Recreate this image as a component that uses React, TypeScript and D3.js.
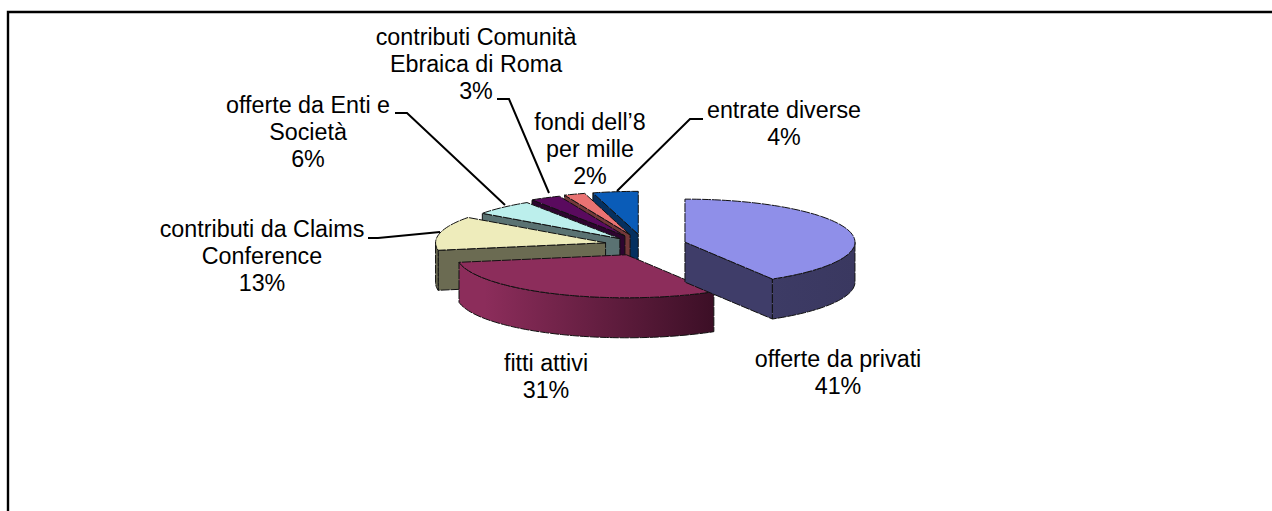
import React from "react";
import * as d3 from "d3";

const categories = ["offerte da privati", "fitti attivi", "contributi da Claims Conference", "offerte da Enti e Società", "contributi Comunità Ebraica di Roma", "fondi dell’8 per mille", "entrate diverse"];
const shares = [41.4, 30.8, 12.8, 5.8, 2.9, 2.0, 4.3];
const topColors = ["#8f8fe9", "#8c2d5b", "#eeecbb", "#bcefec", "#5a0a5e", "#e97272", "#0a5cb8"];
const wallColors = ["#3f3d69", "#8c2d5b", "#6b6b52", "#5a7272", "#2d052f", "#74393a", "#05305f"];
const wallEndColors = ["#3a3860", "#3c0f26", "#6b6b52", "#5a7272", "#2d052f", "#74393a", "#05305f"];
const explodeFactors = [0.25, 0.25, 0.232, 0.206, 0.24, 0.25, 0.25];
const labelLines = [
  ["offerte da privati", "41%"],
  ["fitti attivi", "31%"],
  ["contributi da Claims", "Conference", "13%"],
  ["offerte da Enti e", "Società", "6%"],
  ["contributi Comunità", "Ebraica di Roma", "3%"],
  ["fondi dell’8", "per mille", "2%"],
  ["entrate diverse", "4%"],
];
const labelAnchors: [number, number][] = [[838, 367], [546, 371], [262, 237], [308, 113], [476, 45], [590, 130], [784, 118]];
const leaders: [number, number][][] = [
  [], [],
  [[368, 238], [378, 238], [440, 232]],
  [[395, 113], [407, 113], [505, 205]],
  [[497, 99], [509, 99], [549, 193]],
  [],
  [[703, 119], [690, 119], [617, 191]],
];

const cx = 644, cy = 245, rx = 170, ry = 43, depth = 40;

const pie = d3.pie<number>().sort(null).value((d) => d).startAngle(0).endAngle(2 * Math.PI);
const arcs = pie(shares);

const pt = (c: [number, number], a: number, dy = 0): [number, number] => [
  c[0] + rx * Math.sin(a),
  c[1] - ry * Math.cos(a) + dy,
];
const sample = (a0: number, a1: number) => {
  const n = Math.max(2, Math.ceil(((a1 - a0) / Math.PI) * 90));
  return d3.range(n + 1).map((i) => a0 + ((a1 - a0) * i) / n);
};
const line = d3.line<[number, number]>();
const closed = (p: [number, number][]) => line(p)! + "Z";

const edge = { stroke: "#111", strokeWidth: 1, strokeDasharray: "9 1", strokeLinejoin: "round" as const };

export default function App() {
  const slices = arcs.map((d, i) => {
    const mid = (d.startAngle + d.endAngle) / 2;
    const e = explodeFactors[i];
    const c: [number, number] = [cx + e * rx * Math.sin(mid), cy - e * ry * Math.cos(mid)];
    return { i, a0: d.startAngle, a1: d.endAngle, c };
  });
  const order = [6, 5, 4, 3, 2, 1, 0];
  return (
    <svg width={1272} height={511} style={{ position: "absolute", left: 0, top: 0, background: "#fff" }}>
      <defs>
        {slices.map((s) => {
          const xs = sample(s.a0, s.a1).map((a) => pt(s.c, a)[0]);
          return (
            <linearGradient key={s.i} id={`wall${s.i}`} gradientUnits="userSpaceOnUse" x1={d3.min(xs)} x2={d3.max(xs)} y1={0} y2={0}>
              <stop offset="0.1" stopColor={wallColors[s.i]} />
              <stop offset="1" stopColor={wallEndColors[s.i]} />
            </linearGradient>
          );
        })}
      </defs>
      <path d="M8,511V12H1272" fill="none" stroke="#000" strokeWidth={2.4} />
      {order.map((i) => {
        const s = slices[i];
        const wa0 = Math.max(s.a0, Math.PI / 2);
        const wa1 = Math.min(s.a1, (3 * Math.PI) / 2);
        const showWall = wa1 > wa0;
        const showStart = Math.sin(s.a0) < -1e-6;
        const showEnd = Math.sin(s.a1) > 1e-6;
        const top: [number, number][] = [s.c, ...sample(s.a0, s.a1).map((a) => pt(s.c, a))];
        return (
          <g key={i}>
            {showStart && (
              <path d={closed([s.c, pt(s.c, s.a0), pt(s.c, s.a0, depth), [s.c[0], s.c[1] + depth]])} fill={wallColors[i]} {...edge} />
            )}
            {showEnd && (
              <path d={closed([s.c, pt(s.c, s.a1), pt(s.c, s.a1, depth), [s.c[0], s.c[1] + depth]])} fill={wallColors[i]} {...edge} />
            )}
            {showWall && (
              <path
                d={closed([
                  ...sample(wa0, wa1).map((a) => pt(s.c, a)),
                  ...sample(wa0, wa1).reverse().map((a) => pt(s.c, a, depth)),
                ])}
                fill={`url(#wall${i})`}
                {...edge}
              />
            )}
            <path d={closed(top)} fill={topColors[i]} {...edge} />
          </g>
        );
      })}
      {leaders.map((l, i) =>
        l.length ? <path key={i} d={line(l)!} fill="none" stroke="#000" strokeWidth={2} /> : null
      )}
      {labelLines.map((lines, i) => (
        <text key={categories[i]} textAnchor="middle" fontFamily="Liberation Sans, Arial, sans-serif" fontSize={23.3} fill="#000">
          {lines.map((t, j) => (
            <tspan key={j} x={labelAnchors[i][0]} y={labelAnchors[i][1] + j * 27}>{t}</tspan>
          ))}
        </text>
      ))}
    </svg>
  );
}
